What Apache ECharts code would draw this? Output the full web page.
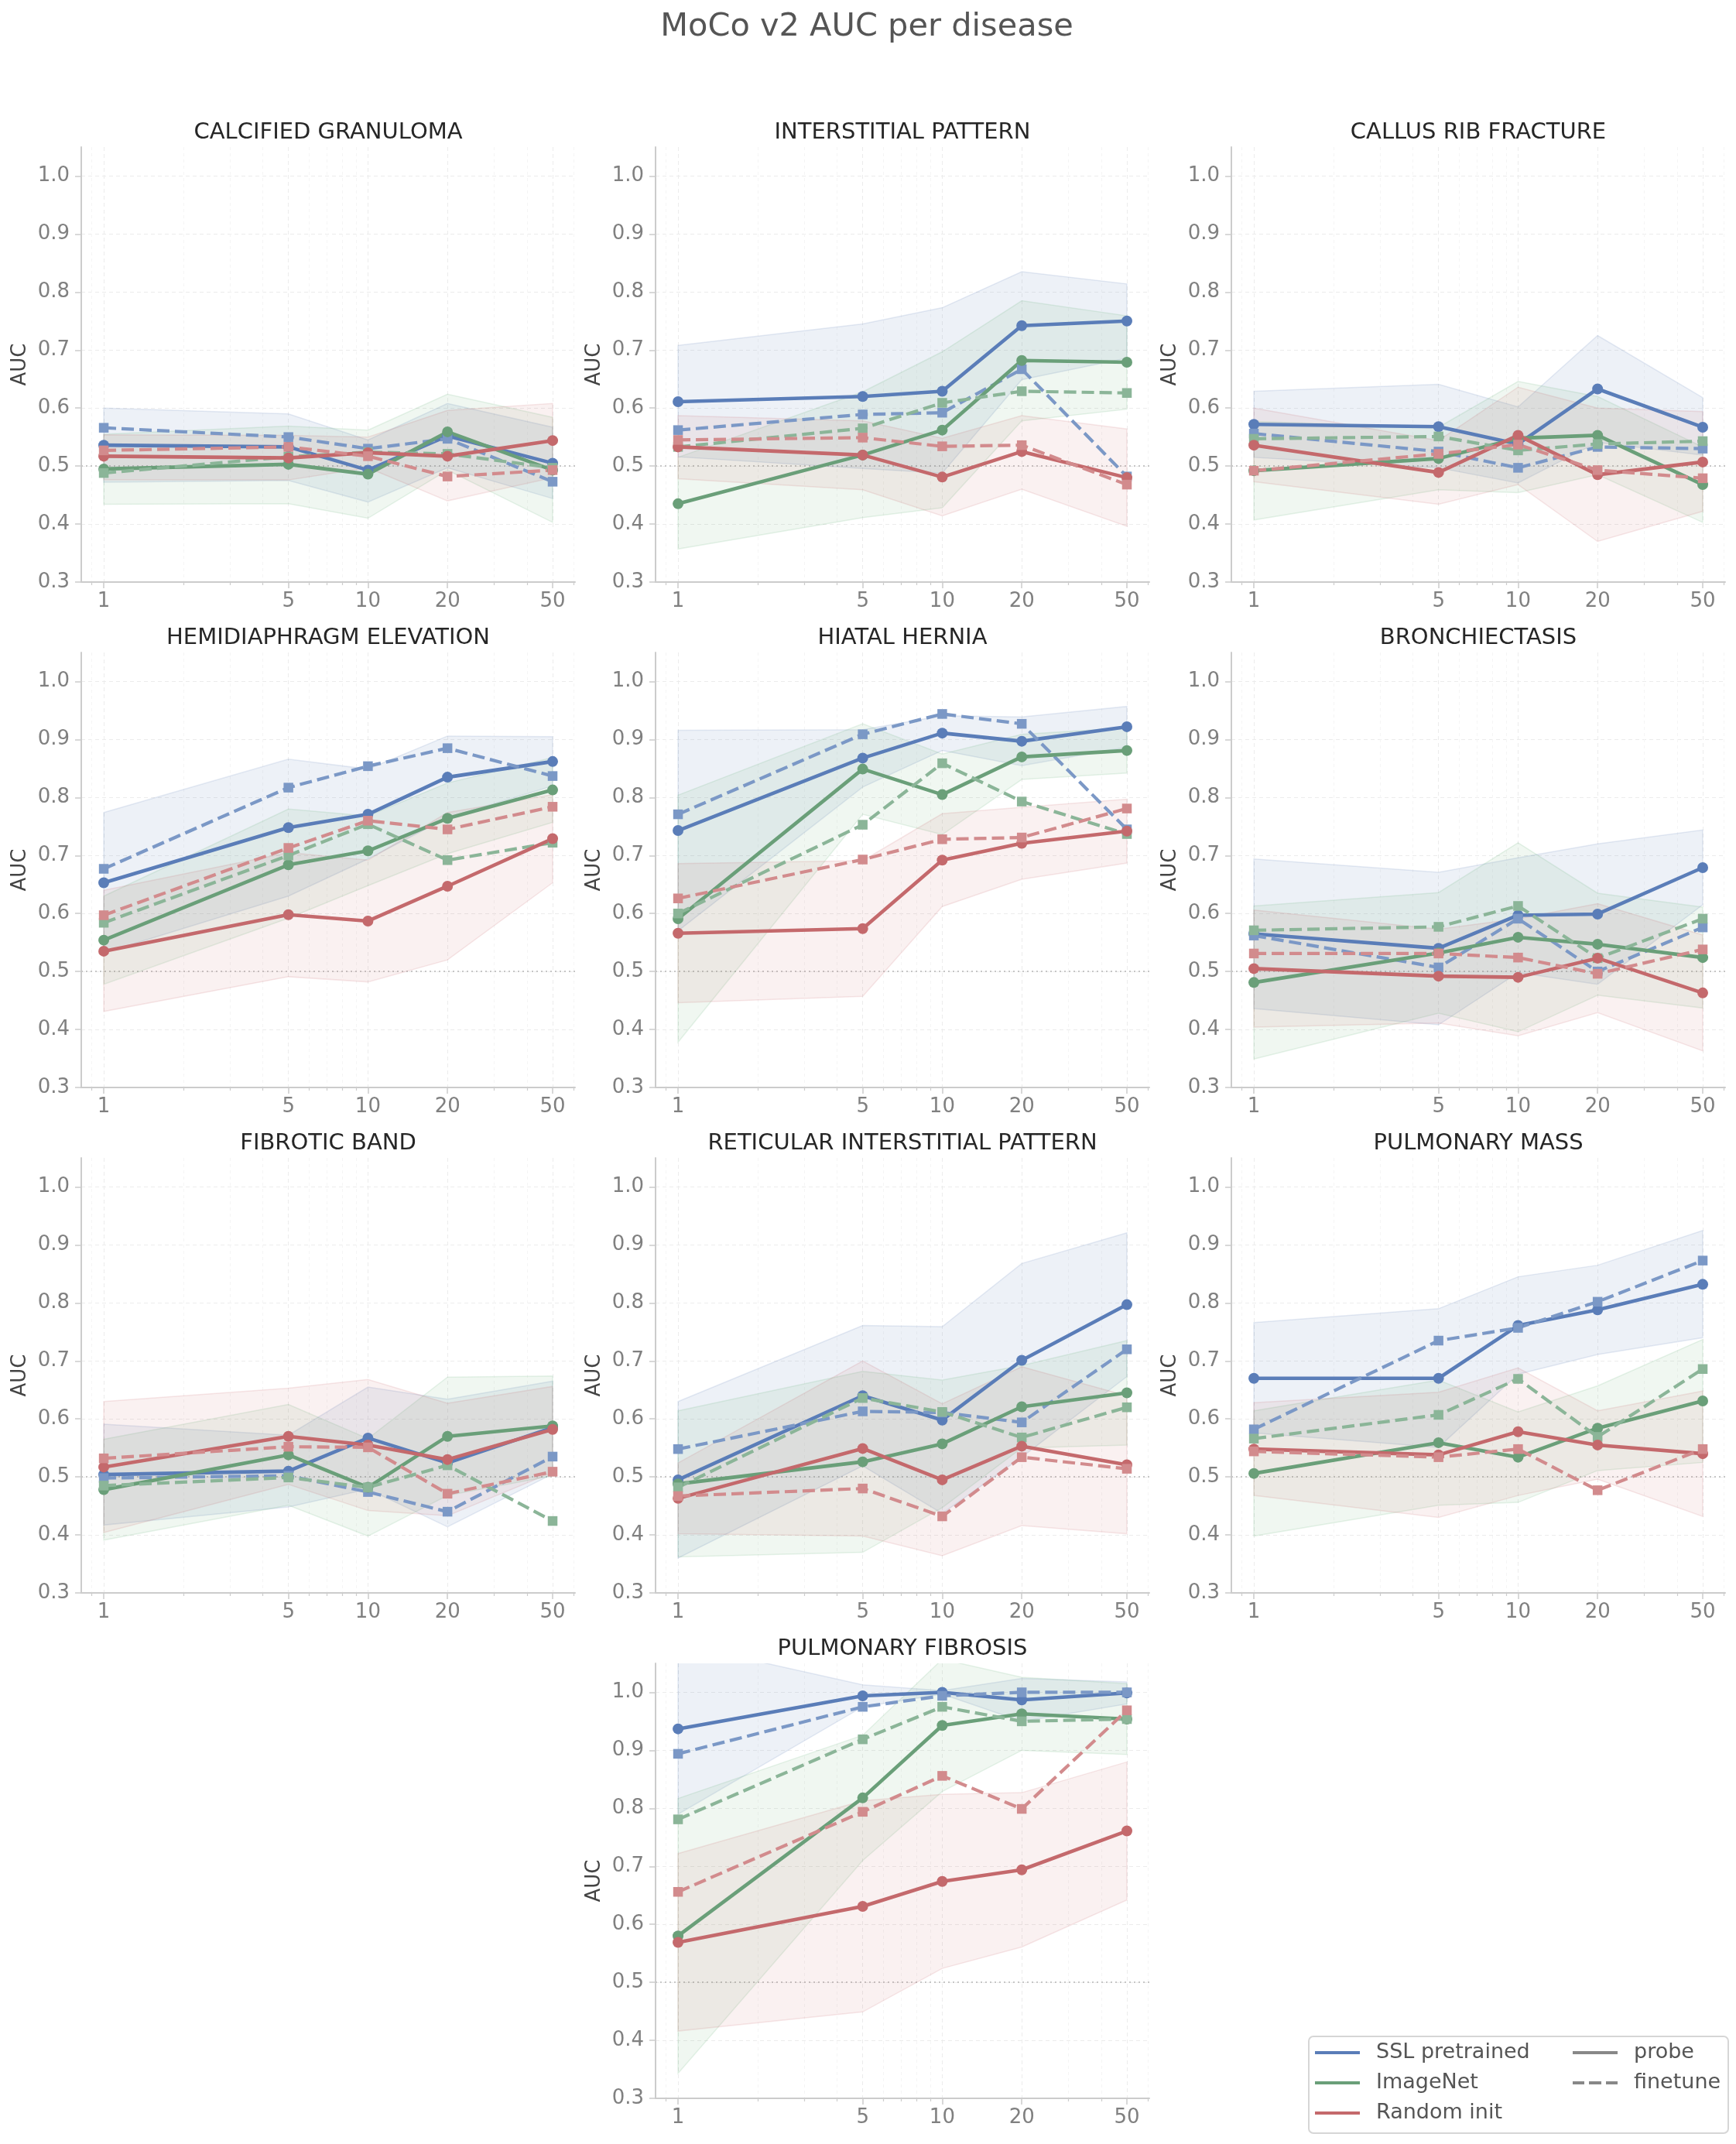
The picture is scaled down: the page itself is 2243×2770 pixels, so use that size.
<!DOCTYPE html>
<html>
<head>
<meta charset="utf-8">
<script src="https://cdn.jsdelivr.net/npm/echarts@6/dist/echarts.min.js"></script>
<style>html,body{margin:0;padding:0;background:#fff}#c{width:2243px;height:2770px}</style>
</head>
<body>
<div id="c"></div>
<script>
// ---------------- DATA ----------------
const SHOTS = [1, 5, 10, 20, 50];
const X_TICKS = [1, 5, 10, 20, 50];
const X_MINOR = [0.9, 2, 3, 4, 6, 7, 8, 9, 30, 40, 60];
const Y_TICKS = [0.3, 0.4, 0.5, 0.6, 0.7, 0.8, 0.9, 1.0];
const DISEASES = ['CALCIFIED GRANULOMA', 'INTERSTITIAL PATTERN', 'CALLUS RIB FRACTURE',
  'HEMIDIAPHRAGM ELEVATION', 'HIATAL HERNIA', 'BRONCHIECTASIS',
  'FIBROTIC BAND', 'RETICULAR INTERSTITIAL PATTERN', 'PULMONARY MASS', 'PULMONARY FIBROSIS'];
const GROUPS = ['SSL pretrained', 'ImageNet', 'Random init'];
const MODES = ['probe', 'finetune'];

const SSL_PROBE = [
  [0.536, 0.533, 0.493, 0.552, 0.505],
  [0.611, 0.620, 0.629, 0.742, 0.750],
  [0.572, 0.568, 0.538, 0.633, 0.567],
  [0.653, 0.748, 0.771, 0.835, 0.862],
  [0.743, 0.868, 0.911, 0.897, 0.922],
  [0.565, 0.540, 0.597, 0.599, 0.679],
  [0.504, 0.510, 0.567, 0.524, 0.585],
  [0.495, 0.640, 0.598, 0.701, 0.797],
  [0.670, 0.670, 0.761, 0.788, 0.832],
  [0.937, 0.994, 1.000, 0.987, 0.999]
];
const SSL_FT = [
  [0.566, 0.550, 0.530, 0.547, 0.473],
  [0.562, 0.589, 0.592, 0.667, 0.482],
  [0.556, 0.525, 0.497, 0.533, 0.530],
  [0.677, 0.817, 0.854, 0.885, 0.837],
  [0.771, 0.909, 0.944, 0.927, 0.745],
  [0.562, 0.507, 0.591, 0.500, 0.576],
  [0.498, 0.502, 0.474, 0.440, 0.535],
  [0.548, 0.613, 0.611, 0.594, 0.720],
  [0.582, 0.735, 0.757, 0.802, 0.873],
  [0.894, 0.975, 0.994, 1.000, 1.000]
];
const IMNET_PROBE = [
  [0.495, 0.503, 0.486, 0.559, 0.493],
  [0.435, 0.519, 0.562, 0.682, 0.679],
  [0.492, 0.513, 0.548, 0.553, 0.468],
  [0.554, 0.684, 0.708, 0.764, 0.813],
  [0.591, 0.849, 0.805, 0.870, 0.881],
  [0.481, 0.532, 0.559, 0.547, 0.524],
  [0.478, 0.538, 0.482, 0.570, 0.588],
  [0.488, 0.526, 0.557, 0.621, 0.645],
  [0.506, 0.559, 0.534, 0.584, 0.631],
  [0.580, 0.818, 0.943, 0.963, 0.954]
];
const IMNET_FT = [
  [0.488, 0.516, 0.524, 0.521, 0.497],
  [0.533, 0.565, 0.609, 0.629, 0.626],
  [0.547, 0.551, 0.527, 0.538, 0.543],
  [0.584, 0.700, 0.754, 0.692, 0.722],
  [0.600, 0.753, 0.859, 0.793, 0.737],
  [0.571, 0.577, 0.613, 0.523, 0.591],
  [0.485, 0.499, 0.482, 0.520, 0.424],
  [0.482, 0.636, 0.612, 0.568, 0.620],
  [0.566, 0.607, 0.669, 0.569, 0.686],
  [0.781, 0.919, 0.975, 0.950, 0.954]
];
const RAND_PROBE = [
  [0.517, 0.514, 0.523, 0.517, 0.544],
  [0.533, 0.519, 0.481, 0.525, 0.480],
  [0.536, 0.489, 0.553, 0.485, 0.507],
  [0.535, 0.598, 0.587, 0.647, 0.729],
  [0.566, 0.574, 0.692, 0.721, 0.742],
  [0.505, 0.492, 0.490, 0.523, 0.463],
  [0.517, 0.570, 0.555, 0.530, 0.582],
  [0.463, 0.549, 0.495, 0.553, 0.521],
  [0.548, 0.538, 0.578, 0.555, 0.540],
  [0.569, 0.631, 0.674, 0.694, 0.761]
];
const RAND_FT = [
  [0.527, 0.533, 0.517, 0.482, 0.493],
  [0.545, 0.549, 0.534, 0.536, 0.468],
  [0.492, 0.521, 0.537, 0.493, 0.479],
  [0.597, 0.713, 0.760, 0.745, 0.784],
  [0.626, 0.693, 0.728, 0.731, 0.781],
  [0.531, 0.531, 0.524, 0.496, 0.538],
  [0.532, 0.552, 0.551, 0.471, 0.509],
  [0.467, 0.480, 0.432, 0.534, 0.514],
  [0.544, 0.534, 0.548, 0.477, 0.548],
  [0.656, 0.794, 0.856, 0.799, 0.969]
];
// shaded bands (probe mean +/- spread): lower and upper edges
const SSL_LO = [
  [0.472, 0.475, 0.438, 0.497, 0.444],
  [0.516, 0.496, 0.488, 0.649, 0.686],
  [0.515, 0.497, 0.471, 0.541, 0.519],
  [0.532, 0.630, 0.694, 0.765, 0.820],
  [0.570, 0.818, 0.881, 0.855, 0.887],
  [0.436, 0.408, 0.498, 0.478, 0.615],
  [0.417, 0.448, 0.479, 0.414, 0.505],
  [0.360, 0.519, 0.437, 0.534, 0.673],
  [0.576, 0.551, 0.677, 0.711, 0.740],
  [0.790, 0.975, 0.997, 0.950, 0.980]
];
const SSL_HI = [
  [0.600, 0.590, 0.545, 0.608, 0.567],
  [0.708, 0.745, 0.773, 0.835, 0.814],
  [0.629, 0.641, 0.602, 0.725, 0.618],
  [0.774, 0.866, 0.849, 0.906, 0.905],
  [0.916, 0.917, 0.941, 0.939, 0.957],
  [0.694, 0.671, 0.696, 0.720, 0.744],
  [0.591, 0.572, 0.655, 0.634, 0.665],
  [0.630, 0.761, 0.759, 0.868, 0.921],
  [0.766, 0.790, 0.845, 0.865, 0.925],
  [1.084, 1.013, 1.003, 1.024, 1.018]
];
const IMNET_LO = [
  [0.434, 0.435, 0.410, 0.493, 0.403],
  [0.357, 0.411, 0.428, 0.578, 0.598],
  [0.407, 0.459, 0.454, 0.485, 0.403],
  [0.478, 0.592, 0.648, 0.703, 0.757],
  [0.378, 0.771, 0.736, 0.831, 0.842],
  [0.349, 0.428, 0.396, 0.459, 0.437],
  [0.391, 0.451, 0.398, 0.468, 0.502],
  [0.362, 0.370, 0.447, 0.550, 0.555],
  [0.398, 0.451, 0.456, 0.511, 0.525],
  [0.343, 0.710, 0.829, 0.900, 0.893]
];
const IMNET_HI = [
  [0.555, 0.569, 0.562, 0.624, 0.584],
  [0.515, 0.628, 0.697, 0.785, 0.759],
  [0.577, 0.567, 0.646, 0.620, 0.533],
  [0.630, 0.780, 0.768, 0.825, 0.869],
  [0.804, 0.927, 0.875, 0.909, 0.920],
  [0.613, 0.636, 0.722, 0.635, 0.611],
  [0.565, 0.625, 0.566, 0.672, 0.674],
  [0.614, 0.682, 0.667, 0.692, 0.735],
  [0.614, 0.667, 0.612, 0.657, 0.737],
  [0.817, 0.926, 1.057, 1.026, 1.015]
];
const RAND_LO = [
  [0.476, 0.476, 0.497, 0.440, 0.480],
  [0.478, 0.459, 0.414, 0.460, 0.396],
  [0.473, 0.434, 0.468, 0.370, 0.422],
  [0.431, 0.491, 0.482, 0.520, 0.653],
  [0.446, 0.457, 0.612, 0.659, 0.687],
  [0.404, 0.411, 0.389, 0.429, 0.363],
  [0.404, 0.487, 0.442, 0.433, 0.508],
  [0.402, 0.398, 0.364, 0.416, 0.402],
  [0.468, 0.430, 0.468, 0.496, 0.432],
  [0.416, 0.449, 0.524, 0.561, 0.642]
];
const RAND_HI = [
  [0.554, 0.553, 0.550, 0.596, 0.608],
  [0.587, 0.578, 0.548, 0.587, 0.564],
  [0.600, 0.544, 0.636, 0.600, 0.594],
  [0.640, 0.705, 0.692, 0.774, 0.805],
  [0.686, 0.691, 0.772, 0.783, 0.797],
  [0.606, 0.573, 0.591, 0.617, 0.563],
  [0.630, 0.653, 0.668, 0.627, 0.656],
  [0.524, 0.700, 0.626, 0.690, 0.640],
  [0.628, 0.646, 0.688, 0.614, 0.648],
  [0.722, 0.813, 0.824, 0.827, 0.880]
];

// ---------------- STYLE / LAYOUT ----------------
const FONT = 'DejaVu Sans';
const COL_LEFT = [105, 847, 1591];
const ROW_TOP = [190, 843, 1496, 2149];
const PW = 638, PH = 562;
const X_MIN = 0.822, X_MAX = 60.8;
const SOLID = ['#5a7db8', '#6a9f79', '#c4696c'];
const DASH = ['#7b98c6', '#8bb598', '#d28b8d'];
const BAND_FILL = ['rgba(76,114,176,0.10)', 'rgba(85,168,104,0.09)', 'rgba(196,78,82,0.08)'];
const BAND_EDGE = ['rgba(76,114,176,0.14)', 'rgba(85,168,104,0.14)', 'rgba(196,78,82,0.13)'];

const PROBES = [SSL_PROBE, IMNET_PROBE, RAND_PROBE];
const FTS = [SSL_FT, IMNET_FT, RAND_FT];
const LOS = [SSL_LO, IMNET_LO, RAND_LO];
const HIS = [SSL_HI, IMNET_HI, RAND_HI];

function panelPos(i) {
  if (i < 9) return [Math.floor(i / 3), i % 3];
  return [3, 1];
}

function bandRenderer(fill, edge) {
  return function (params, api) {
    if (params.dataIndexInside !== 0) return null;
    const n = params.dataInsideLength;
    const up = [], dn = [];
    for (let k = 0; k < n; k++) {
      const x = api.value(0, k);
      up.push(api.coord([x, api.value(2, k)]));
      dn.push(api.coord([x, api.value(1, k)]));
    }
    const pts = up.concat(dn.reverse());
    const cs = params.coordSys;
    return {
      type: 'polygon',
      shape: { points: pts },
      style: { fill: fill, stroke: edge, lineWidth: 1.5 },
      clipPath: { type: 'rect', shape: { x: cs.x, y: cs.y, width: cs.width, height: cs.height } }
    };
  };
}

const grids = [], xAxes = [], yAxes = [], series = [], titles = [];

titles.push({
  text: 'MoCo v2 AUC per disease', left: 1120, top: 14, textAlign: 'center', padding: 0,
  textStyle: { fontFamily: FONT, fontSize: 41.5, fontWeight: 'normal', color: '#555555' }
});

DISEASES.forEach((name, i) => {
  const [r, c] = panelPos(i);
  const left = COL_LEFT[c], top = ROW_TOP[r];
  grids.push({ left: left, top: top, width: PW, height: PH });
  titles.push({
    text: name, left: left + PW / 2, top: top - 33, textAlign: 'center', padding: 0,
    textStyle: { fontFamily: FONT, fontSize: 29, fontWeight: 'normal', color: '#262626' }
  });
  const xi = xAxes.length;
  xAxes.push({
    gridIndex: i, type: 'log', logBase: 10, min: X_MIN, max: X_MAX, position: 'bottom',
    axisLine: { show: true, lineStyle: { color: '#cccccc', width: 2 } },
    axisTick: { show: true, customValues: X_TICKS, length: 8, lineStyle: { color: '#cccccc', width: 1.5 } },
    axisLabel: { customValues: X_TICKS, formatter: v => String(Math.round(v)), margin: 12,
      fontFamily: FONT, fontSize: 26, color: '#808080' },
    splitLine: { show: true, lineStyle: { color: '#ececec', type: [5, 4], width: 1 } },
    minorTick: { show: false }, minorSplitLine: { show: false }
  });
  xAxes.push({
    gridIndex: i, type: 'log', logBase: 10, min: X_MIN, max: X_MAX, position: 'bottom', offset: 0,
    axisLine: { show: false },
    axisTick: { show: true, customValues: X_MINOR, length: 4, lineStyle: { color: '#cccccc', width: 1.2 } },
    axisLabel: { show: false },
    splitLine: { show: true, lineStyle: { color: '#f5f5f5', type: [4, 4], width: 1 } }
  });
  yAxes.push({
    gridIndex: i, type: 'value', min: 0.3, max: 1.05, interval: 0.1,
    axisLine: { show: true, lineStyle: { color: '#cccccc', width: 2 } },
    axisTick: { show: true, customValues: Y_TICKS, length: 8, lineStyle: { color: '#cccccc', width: 1.5 } },
    axisLabel: { customValues: Y_TICKS, formatter: v => v.toFixed(1), margin: 15,
      fontFamily: FONT, fontSize: 26, color: '#808080' },
    splitLine: { show: true, lineStyle: { color: '#ececec', type: [5, 4], width: 1 } },
    name: 'AUC', nameLocation: 'middle', nameGap: 66,
    nameTextStyle: { fontFamily: FONT, fontSize: 26, color: '#444444' }
  });

  // bands
  for (let g = 0; g < 3; g++) {
    series.push({
      type: 'custom', xAxisIndex: xi, yAxisIndex: i, z: 1, silent: true,
      renderItem: bandRenderer(BAND_FILL[g], BAND_EDGE[g]),
      encode: { x: 0, y: [1, 2] },
      data: SHOTS.map((s, k) => [s, LOS[g][i][k], HIS[g][i][k]])
    });
  }
  // lines
  for (let g = 0; g < 3; g++) {
    const probe = {
      type: 'line', name: GROUPS[g] + ' probe ' + i, xAxisIndex: xi, yAxisIndex: i, z: 3,
      data: SHOTS.map((s, k) => [s, PROBES[g][i][k]]),
      symbol: 'circle', symbolSize: 14,
      lineStyle: { color: SOLID[g], width: 4.6 },
      itemStyle: { color: SOLID[g] },
      silent: true
    };
    if (g === 0) {
      probe.markLine = {
        silent: true, symbol: 'none', label: { show: false },
        lineStyle: { color: '#c6c6c6', type: [2, 4], width: 1.8 },
        data: [{ yAxis: 0.5 }], z: 1
      };
    }
    series.push(probe);
    series.push({
      type: 'line', name: GROUPS[g] + ' finetune ' + i, xAxisIndex: xi, yAxisIndex: i, z: 3,
      data: SHOTS.map((s, k) => [s, FTS[g][i][k]]),
      symbol: 'rect', symbolSize: 12.5,
      lineStyle: { color: DASH[g], width: 4.2, type: [16, 7] },
      itemStyle: { color: DASH[g] },
      silent: true
    });
  }
});

// legend proxy series (no data)
GROUPS.forEach((gname, g) => {
  series.push({ type: 'line', name: gname, xAxisIndex: 0, yAxisIndex: 0, data: [], symbol: 'none',
    lineStyle: { color: SOLID[g], width: 4 }, itemStyle: { color: SOLID[g] } });
});
series.push({ type: 'line', name: MODES[0], xAxisIndex: 0, yAxisIndex: 0, data: [], symbol: 'none',
  lineStyle: { color: '#888888', width: 4 }, itemStyle: { color: '#888888' } });
series.push({ type: 'line', name: MODES[1], xAxisIndex: 0, yAxisIndex: 0, data: [], symbol: 'none',
  lineStyle: { color: '#888888', width: 4, type: [15, 6] }, itemStyle: { color: '#888888' } });

const SOLID_ICON = 'path://M0,0h58v4h-58z';
const DASH_ICON = 'path://M0,0h15v4h-15z M21,0h16v4h-16z M43,0h15v4h-15z';
const legendText = { fontFamily: FONT, fontSize: 27, color: '#555555', padding: [0, 0, 0, 16], lineHeight: 30 };
const option = {
  backgroundColor: '#ffffff',
  animation: false,
  title: titles,
  grid: grids,
  xAxis: xAxes,
  yAxis: yAxes,
  series: series,
  legend: [
    { data: GROUPS.map(n => ({ name: n, icon: SOLID_ICON })), left: 1699, top: 2637, orient: 'vertical',
      itemWidth: 58, itemHeight: 4, itemGap: 9, selectedMode: false, textStyle: legendText, padding: 0,
      symbolKeepAspect: false },
    { data: [{ name: MODES[0], icon: SOLID_ICON }, { name: MODES[1], icon: DASH_ICON }],
      left: 2032, top: 2637, orient: 'vertical',
      itemWidth: 58, itemHeight: 4, itemGap: 9, selectedMode: false, textStyle: legendText, padding: 0,
      symbolKeepAspect: false }
  ],
  graphic: [{
    type: 'rect', left: 1690, top: 2630, z: 0,
    shape: { width: 542, height: 125, r: 6 },
    style: { fill: '#ffffff', stroke: '#d6d6d6', lineWidth: 2 }
  }]
};

const chart = echarts.init(document.getElementById('c'), null, { renderer: 'canvas' });
chart.setOption(option);
</script>
</body>
</html>
